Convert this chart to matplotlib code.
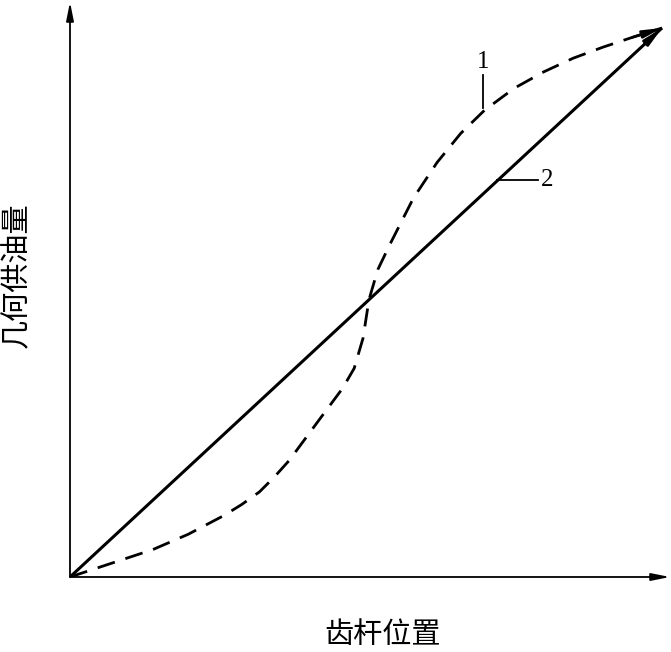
import matplotlib.pyplot as plt

plt.rcParams['font.family'] = ['Noto Sans CJK SC', 'DejaVu Sans']

# 齿杆位置 (x) vs 几何供油量 (y), normalised 0..1
x_line = [0.0, 1.0]
y_line = [0.0, 1.0]

x_curve = [0.0, 0.07, 0.14, 0.20, 0.26, 0.29, 0.32, 0.345, 0.37, 0.42, 0.46,
           0.48, 0.495, 0.505, 0.52, 0.54, 0.58, 0.62, 0.66, 0.70, 0.75, 0.80,
           0.85, 0.90, 0.95, 1.0]
y_curve = [0.0, 0.025, 0.05, 0.078, 0.112, 0.132, 0.155, 0.182, 0.212, 0.285,
           0.343, 0.38, 0.435, 0.505, 0.56, 0.605, 0.69, 0.755, 0.808, 0.85,
           0.89, 0.92, 0.945, 0.965, 0.983, 1.0]

fig = plt.figure(figsize=(6.71, 6.52), dpi=100)
ax = fig.add_axes([70 / 671, 75 / 652, 600 / 671, 575 / 652])
ax.set_xlim(0, 600 / 592)
ax.set_ylim(0, 575 / 549)
ax.axis('off')

arrow = dict(arrowstyle='-|>,head_length=1.1,head_width=0.22', color='black',
             lw=1.3, shrinkA=0, shrinkB=0)

# axes with arrows
ax.annotate('', xy=(600 / 592, 0), xytext=(0, 0), arrowprops=arrow)
ax.annotate('', xy=(0, 575 / 549), xytext=(0, 0), arrowprops=arrow)

# line 2
ax.plot(x_line, y_line, color='black', lw=2.2, solid_capstyle='butt')
ax.annotate('', xy=(x_line[-1], y_line[-1]), xytext=(0.97, 0.97),
            arrowprops=dict(arrow, lw=2))

# curve 1
ax.plot(x_curve, y_curve, color='black', lw=2.0, dashes=(6.5, 4))
ax.annotate('', xy=(x_curve[-1], y_curve[-1]), xytext=(x_curve[-2], y_curve[-2]),
            arrowprops=dict(arrow, lw=1.8))

# leader lines and labels
ax.plot([0.697, 0.697], [0.855, 0.915], color='black', lw=1.3)
ax.text(0.697, 0.918, '1', family='Liberation Serif', fontsize=18,
        ha='center', va='bottom')
ax.plot([0.722, 0.790], [0.723, 0.723], color='black', lw=1.3)
ax.text(0.795, 0.723, '2', family='Liberation Serif', fontsize=18,
        ha='left', va='center')

fig.text(383 / 671, 1 - 635 / 652, '齿杆位置', fontsize=21, ha='center', va='center')
fig.text(17 / 671, 1 - 275 / 652, '几何供油量', fontsize=21, ha='center',
         va='center', rotation=90)

plt.savefig('out.png', dpi=100)
